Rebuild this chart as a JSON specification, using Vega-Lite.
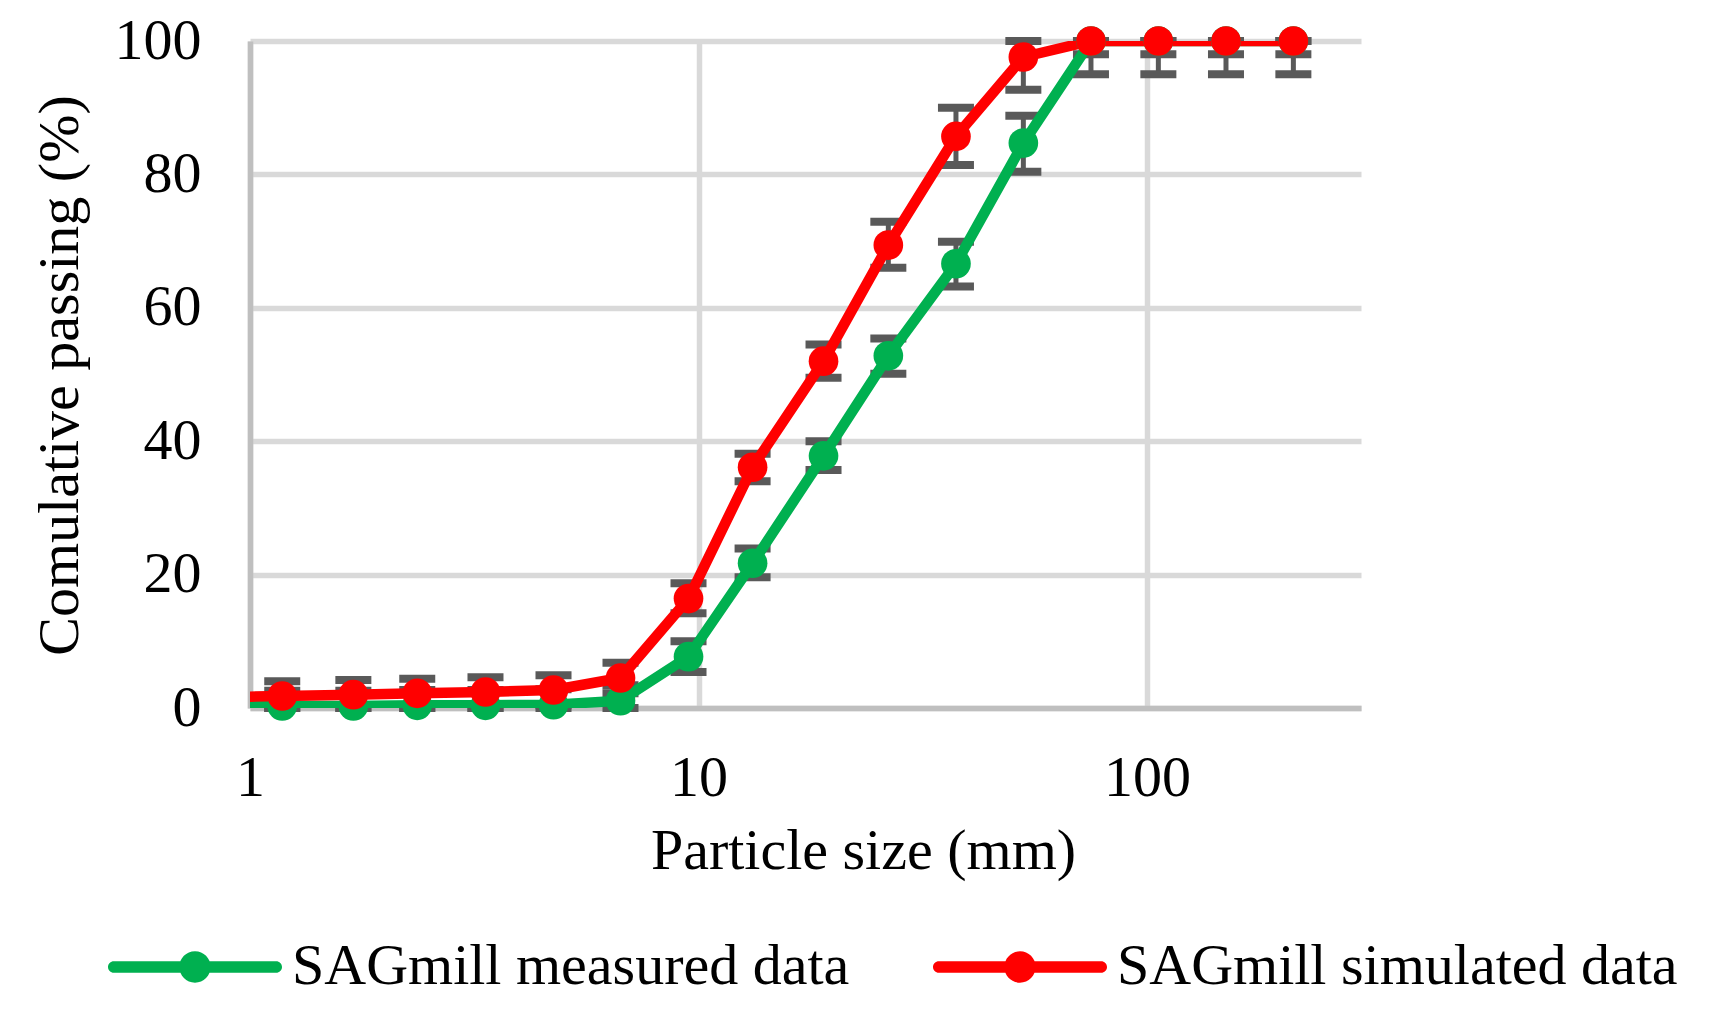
{
  "$schema": "https://vega.github.io/schema/vega-lite/v6.json",
  "description": "Cumulative passing of SAG mill product, measured vs simulated, with error bars",
  "width": 1111,
  "height": 667,
  "autosize": {"type": "none"},
  "padding": {"left": 250, "top": 41, "right": 350, "bottom": 313},
  "background": "white",
  "config": {
    "font": "Liberation Serif",
    "view": {"stroke": null},
    "axis": {
      "labelFont": "Liberation Serif",
      "titleFont": "Liberation Serif",
      "labelFontSize": 58,
      "titleFontSize": 58,
      "labelColor": "black",
      "titleColor": "black",
      "titleFontWeight": "normal",
      "ticks": false,
      "tickSize": 0,
      "grid": true,
      "gridColor": "#d9d9d9",
      "gridWidth": 5.5,
      "domainColor": "#bfbfbf",
      "domainWidth": 5.5,
      "labelOverlap": false,
      "labelFlush": false
    }
  },
  "data": {
    "values": [
      {"size": 0.85, "series": "SAGmill measured data", "pass": 0.2, "lo": 0, "hi": 2.5},
      {"size": 1.18, "series": "SAGmill measured data", "pass": 0.3, "lo": 0, "hi": 2.6},
      {"size": 1.7, "series": "SAGmill measured data", "pass": 0.3, "lo": 0, "hi": 2.6},
      {"size": 2.36, "series": "SAGmill measured data", "pass": 0.4, "lo": 0, "hi": 2.7},
      {"size": 3.35, "series": "SAGmill measured data", "pass": 0.4, "lo": 0, "hi": 2.7},
      {"size": 4.75, "series": "SAGmill measured data", "pass": 0.5, "lo": 0, "hi": 2.8},
      {"size": 6.7, "series": "SAGmill measured data", "pass": 1.1, "lo": 0, "hi": 3.4},
      {"size": 9.5, "series": "SAGmill measured data", "pass": 7.7, "lo": 5.4, "hi": 10.0},
      {"size": 13.2, "series": "SAGmill measured data", "pass": 21.7, "lo": 19.6, "hi": 23.9},
      {"size": 19, "series": "SAGmill measured data", "pass": 37.8, "lo": 35.7, "hi": 40.0},
      {"size": 26.5, "series": "SAGmill measured data", "pass": 52.8, "lo": 50.1, "hi": 55.4},
      {"size": 37.5, "series": "SAGmill measured data", "pass": 66.6, "lo": 63.2, "hi": 69.9},
      {"size": 53, "series": "SAGmill measured data", "pass": 84.7, "lo": 80.4, "hi": 88.8},
      {"size": 75, "series": "SAGmill measured data", "pass": 100, "lo": 98, "hi": 100},
      {"size": 106, "series": "SAGmill measured data", "pass": 100, "lo": 98, "hi": 100},
      {"size": 150, "series": "SAGmill measured data", "pass": 100, "lo": 98, "hi": 100},
      {"size": 212, "series": "SAGmill measured data", "pass": 100, "lo": 98, "hi": 100},
      {"size": 0.85, "series": "SAGmill simulated data", "pass": 1.6, "lo": 0, "hi": 3.8},
      {"size": 1.18, "series": "SAGmill simulated data", "pass": 1.8, "lo": 0, "hi": 4.0},
      {"size": 1.7, "series": "SAGmill simulated data", "pass": 2.0, "lo": 0, "hi": 4.2},
      {"size": 2.36, "series": "SAGmill simulated data", "pass": 2.2, "lo": 0, "hi": 4.4},
      {"size": 3.35, "series": "SAGmill simulated data", "pass": 2.4, "lo": 0, "hi": 4.6},
      {"size": 4.75, "series": "SAGmill simulated data", "pass": 2.7, "lo": 0.4, "hi": 4.9},
      {"size": 6.7, "series": "SAGmill simulated data", "pass": 4.5, "lo": 2.2, "hi": 6.8},
      {"size": 9.5, "series": "SAGmill simulated data", "pass": 16.4, "lo": 14.2, "hi": 18.7},
      {"size": 13.2, "series": "SAGmill simulated data", "pass": 36.1, "lo": 34.0, "hi": 38.1},
      {"size": 19, "series": "SAGmill simulated data", "pass": 52.0, "lo": 49.5, "hi": 54.5},
      {"size": 26.5, "series": "SAGmill simulated data", "pass": 69.4, "lo": 66.0, "hi": 72.9},
      {"size": 37.5, "series": "SAGmill simulated data", "pass": 85.7, "lo": 81.4, "hi": 90.0},
      {"size": 53, "series": "SAGmill simulated data", "pass": 97.6, "lo": 92.7, "hi": 100},
      {"size": 75, "series": "SAGmill simulated data", "pass": 100, "lo": 95, "hi": 100},
      {"size": 106, "series": "SAGmill simulated data", "pass": 100, "lo": 95, "hi": 100},
      {"size": 150, "series": "SAGmill simulated data", "pass": 100, "lo": 95, "hi": 100},
      {"size": 212, "series": "SAGmill simulated data", "pass": 100, "lo": 95, "hi": 100}
    ]
  },
  "encoding": {
    "x": {
      "field": "size",
      "type": "quantitative",
      "scale": {"type": "log", "domain": [1, 300], "nice": false},
      "axis": {
        "values": [1, 10, 100],
        "format": "d",
        "title": "Particle size (mm)",
        "labelBaseline": "alphabetic",
        "labelPadding": 87,
        "titleX": 613,
        "titleY": 160,
        "titleBaseline": "alphabetic"
      }
    }
  },
  "layer": [
    {
      "transform": [{"filter": "datum.size >= 1"}],
      "mark": {"type": "rule", "color": "#595959", "strokeWidth": 5},
      "encoding": {
        "y": {"field": "lo", "type": "quantitative", "title": "Comulative passing (%)", "scale": {"domain": [0, 100]}},
        "y2": {"field": "hi"}
      }
    },
    {
      "transform": [{"filter": "datum.size >= 1"}],
      "mark": {"type": "tick", "orient": "horizontal", "color": "#595959", "size": 36, "thickness": 8, "opacity": 1},
      "encoding": {
        "y": {"field": "lo", "type": "quantitative", "title": "Comulative passing (%)", "scale": {"domain": [0, 100]}}
      }
    },
    {
      "transform": [{"filter": "datum.size >= 1"}],
      "mark": {"type": "tick", "orient": "horizontal", "color": "#595959", "size": 36, "thickness": 8, "opacity": 1},
      "encoding": {
        "y": {"field": "hi", "type": "quantitative", "title": "Comulative passing (%)", "scale": {"domain": [0, 100]}}
      }
    },
    {
      "mark": {"type": "line", "strokeWidth": 10.5, "clip": true, "strokeJoin": "round"},
      "encoding": {
        "y": {
          "field": "pass",
          "type": "quantitative",
          "title": "Comulative passing (%)",
          "scale": {"domain": [0, 100]},
          "axis": {
            "values": [0, 20, 40, 60, 80, 100],
            "labelPadding": 49,
            "titleX": -173,
            "titleY": 334,
            "titleAngle": -90,
            "titleBaseline": "alphabetic"
          }
        },
        "color": {
          "field": "series",
          "type": "nominal",
          "scale": {
            "domain": ["SAGmill measured data", "SAGmill simulated data"],
            "range": ["#00b050", "#ff0000"]
          },
          "legend": {
            "title": null,
            "orient": "none",
            "direction": "horizontal",
            "legendX": -142,
            "legendY": 839,
            "padding": 0,
            "symbolType": "M-0.933,-0.067 L0.933,-0.067 A0.067,0.067 0 0,1 0.933,0.067 L-0.933,0.067 A0.067,0.067 0 0,1 -0.933,-0.067 Z M0.18,0 A0.18,0.18 0 1,1 -0.18,0 A0.18,0.18 0 1,1 0.18,0 Z",
            "symbolSize": 30276,
            "symbolStrokeWidth": 0,
            "labelFont": "Liberation Serif",
            "labelFontSize": 58,
            "labelColor": "black",
            "labelOffset": 10,
            "labelLimit": 1000,
            "columnPadding": 83,
            "encode": {
              "symbols": {
                "update": {
                  "fill": {"scale": "color", "field": "value"},
                  "stroke": {"value": "transparent"},
                  "opacity": {"value": 1}
                }
              }
            }
          }
        }
      }
    },
    {
      "transform": [{"filter": "datum.size >= 1"}],
      "mark": {"type": "point", "shape": "circle", "filled": true, "size": 880, "opacity": 1, "strokeWidth": 0},
      "encoding": {
        "y": {"field": "pass", "type": "quantitative", "title": "Comulative passing (%)", "scale": {"domain": [0, 100]}},
        "color": {"field": "series", "type": "nominal"}
      }
    }
  ]
}
